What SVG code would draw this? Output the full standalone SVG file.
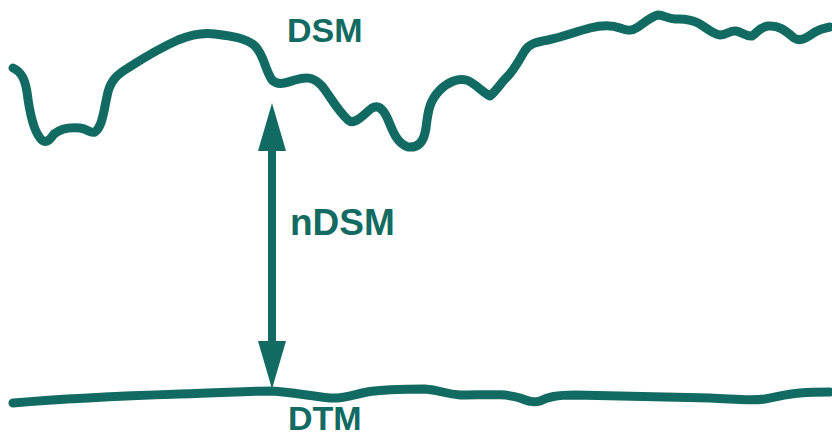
<svg xmlns="http://www.w3.org/2000/svg" width="832" height="437" viewBox="0 0 832 437">
<style>
.line{fill:none;stroke:#126b62;stroke-width:9;stroke-linecap:round;stroke-linejoin:round}
.lbl{font-family:"Liberation Sans",Arial,sans-serif;font-weight:bold;fill:#126b62}
</style>
<defs>
<marker id="ah" viewBox="0 0 48 28" refX="20" refY="14" markerWidth="48" markerHeight="28" markerUnits="userSpaceOnUse" orient="auto-start-reverse">
<path d="M0,0 L48,14 L0,28 Z" fill="#126b62"/>
</marker>
</defs>
<rect width="832" height="437" fill="#ffffff"/>
<g id="dsm">
<path class="line" d="M13,68 C22,72 25,80 27,92 C29,108 32,128 40,138 C45,145 50,140 54,134 C60,129 70,127 80,128 C88,129 90,134 95,132 C103,126 104,108 108,92 C111,80 118,74 128,68 C145,57 160,48 178,40 C190,35 202,32 215,34 C232,36 246,38 255,46 C264,55 265,70 272,80 C278,86 285,83 295,80 C305,77 313,76 322,86 C330,96 337,110 348,120 C355,126 364,114 372,108 C380,104 385,112 389,122 C394,134 398,144 408,147 C418,148 424,142 426,128 C428,110 430,100 440,90 C448,82 458,78 466,80 C474,82 482,92 490,96 C497,90 500,84 507,77 C514,70 518,62 524,52 C528,44 536,42 548,40 C562,37 575,32 590,28 C602,25 612,25 620,28 C628,31 632,31 638,27 C645,22 652,16 658,15 C664,15 668,19 675,19 C682,19 688,18 698,23 C706,27 712,34 720,35 C727,35 730,30 736,31 C742,32 746,37 752,36 C758,32 760,27 768,26 C778,25 785,30 794,38 C800,42 806,38 812,34 C818,30 824,28 830,27"/>
</g>
<g id="dtm">
<path class="line" d="M13,403 C60,399 120,396 180,394 C220,393 250,391 272,391 C290,392 310,396 330,398 C345,399 355,394 367,392 C385,389 405,389 425,389 C440,390 445,394 460,395 C485,395 505,393 520,398 C528,401 533,403 540,401 C548,397 556,395 575,395 C610,396 660,397 710,398 C735,399 750,401 765,399 C778,397 785,394 800,393 C812,392 822,392 830,392"/>
</g>
<g id="connectors">
<line x1="272" y1="131" x2="272" y2="361" stroke="#126b62" stroke-width="8" marker-start="url(#ah)" marker-end="url(#ah)"/>
</g>
<g id="label-dsm"><text class="lbl" x="287" y="42" font-size="34">DSM</text></g>
<g id="label-ndsm"><text class="lbl" x="290" y="235" font-size="37">nDSM</text></g>
<g id="label-dtm"><text class="lbl" x="288" y="430" font-size="34">DTM</text></g>
</svg>
